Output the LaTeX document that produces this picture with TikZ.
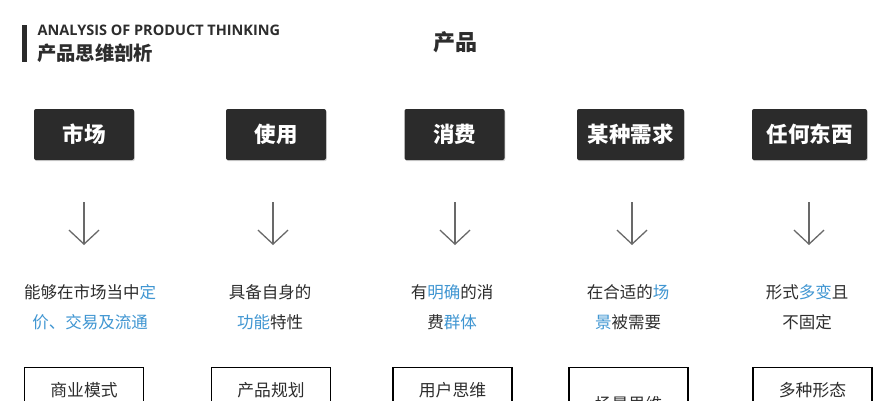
\documentclass[tikz,border=0pt]{standalone}
\usepackage{fontspec}
\setmainfont{Open Sans}
\newfontfamily\cjk{Noto Sans CJK SC}
\usetikzlibrary{arrows.meta,shadows}
\definecolor{darkbox}{RGB}{43,43,43}
\definecolor{hlblue}{RGB}{64,150,210}
\definecolor{arrgray}{RGB}{105,105,105}
\definecolor{txtgray}{RGB}{45,45,45}
\newcommand{\hlt}[1]{\textcolor{hlblue}{#1}}
\begin{document}
\begin{tikzpicture}[x=1pt,y=-1pt,
  darkstyle/.style={fill=darkbox, text=white, rounded corners=2pt, minimum height=51pt,
    inner sep=0pt, font=\cjk\bfseries\fontsize{21.5}{24}\selectfont,
    drop shadow={shadow xshift=0.8pt, shadow yshift=-1.2pt, opacity=0.3}},
  desc/.style={text=txtgray, inner sep=0pt, font=\cjk\fontsize{16.5}{18}\selectfont},
  outbox/.style={draw=black, line width=1.4pt, fill=white, minimum width=119pt, minimum height=70pt, inner sep=0pt},
  outtext/.style={text=txtgray, inner sep=0pt, font=\cjk\fontsize{16.8}{18}\selectfont},
  downarrow/.style={draw=arrgray, line width=1.3pt, -{Straight Barb[length=14pt,width=30pt,line width=1.3pt]}}
]
\useasboundingbox (0,0) rectangle (888,400);
\clip (0,0) rectangle (888,400);
\fill[white] (0,0) rectangle (888,400);

% header
\node[fill=darkbox, minimum width=5pt, minimum height=37pt, inner sep=0pt] (bar) at (24.5,43.5) {};
\node[anchor=west, inner sep=0pt, text=txtgray, font=\bfseries\fontsize{14.5}{16}\selectfont] (en) at (37.5,30) {ANALYSIS OF PRODUCT THINKING};
\node[anchor=west, inner sep=0pt, text=txtgray, font=\cjk\bfseries\fontsize{19.3}{22}\selectfont] (zh) at (37,53.5) {产品思维剖析};
\node[inner sep=0pt, text=txtgray, font=\cjk\bfseries\fontsize{22}{24}\selectfont] (title) at (455,42) {产品};

% dark boxes
\node[darkstyle, minimum width=100pt] (b1) at (84,134.5) {市场};
\node[darkstyle, minimum width=100pt] (b2) at (276,134.5) {使用};
\node[darkstyle, minimum width=100pt] (b3) at (454.5,134.5) {消费};
\node[darkstyle, minimum width=107pt] (b4) at (630.5,134.5) {某种需求};
\node[darkstyle, minimum width=115pt] (b5) at (809.5,134.5) {任何东西};

% arrows
\foreach \i/\x in {1/84,2/273,3/455,4/632,5/809}{
  \coordinate (s\i) at (\x,202);
  \coordinate (e\i) at (\x,245);
  \draw[downarrow] (s\i) -- (e\i);
}

% descriptions
\node[desc] (t1a) at (90,292) {能够在市场当中\hlt{定}};
\node[desc] (t1b) at (90,322) {\hlt{价、交易及流通}};
\node[desc] (t2a) at (270,292) {具备自身的};
\node[desc] (t2b) at (270,322) {\hlt{功能}特性};
\node[desc] (t3a) at (452,292) {有\hlt{明确}的消};
\node[desc] (t3b) at (452,322) {费\hlt{群体}};
\node[desc] (t4a) at (628,292) {在合适的\hlt{场}};
\node[desc] (t4b) at (628,322) {\hlt{景}被需要};
\node[desc] (t5a) at (807,292) {形式\hlt{多变}且};
\node[desc] (t5b) at (807,322) {不固定};

% bottom boxes
\node[outbox, anchor=north] (o1) at (84,367) {};
\node[outbox, anchor=north] (o2) at (271,367) {};
\node[outbox, anchor=north] (o3) at (452.5,367) {};
\node[outbox, anchor=north] (o4) at (628.5,367) {};
\node[outbox, anchor=north] (o5) at (812.5,367) {};
\node[outtext] (ot1) at (84,390) {商业模式};
\node[outtext] (ot2) at (271,390) {产品规划};
\node[outtext] (ot3) at (452.5,390) {用户思维};
\node[outtext] (ot4) at (628.5,404) {场景思维};
\node[outtext] (ot5) at (812.5,390) {多种形态};
\end{tikzpicture}
\end{document}
